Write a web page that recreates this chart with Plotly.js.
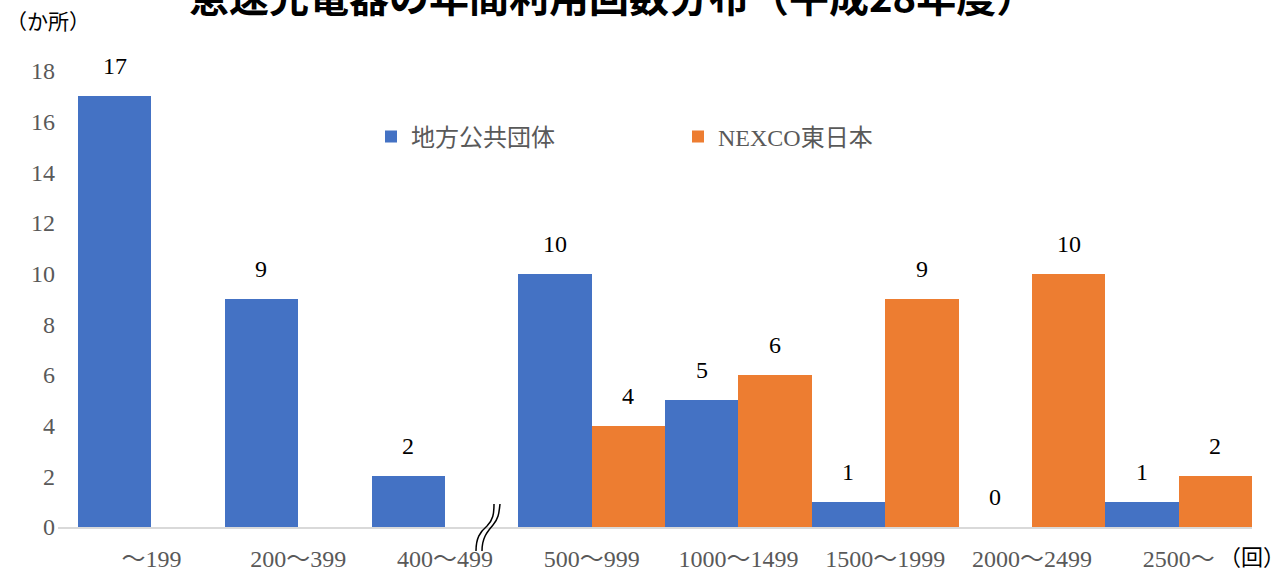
<!DOCTYPE html>
<html>
<head>
<meta charset="utf-8">
<script src="https://cdn.plot.ly/plotly-3.0.1.min.js"></script>
<style>html,body{margin:0;padding:0;background:#fff;}#chart{width:1287px;height:571px;}</style>
</head>
<body>
<div id="chart"></div>
<script>
const categories = ["～199", "200～399", "400～499", "500～999", "1000～1499", "1500～1999", "2000～2499", "2500～"];
const localGov = [17, 9, 2, 10, 5, 1, 0, 1];
const nexcoEast = [null, null, null, 4, 6, 9, 10, 2];
const seriesNames = ["地方公共団体", "NEXCO東日本"];
const titleText = "急速充電器の年間利用回数分布（平成28年度）";
const yUnit = "（か所）";
const xUnit = "（回）";

const W = 1287, H = 571;
const M = {l: 58, r: 35, t: 71, b: 44};
const plotW = W - M.l - M.r, plotH = H - M.t - M.b;
const px = x => (x - M.l) / plotW;
const py = y => (H - M.b - y) / plotH;

const serif = "Liberation Serif, Noto Sans CJK JP, serif";
const gray = "#595959";

const traces = [
  {type: "bar", name: seriesNames[0], x: categories, y: localGov,
   marker: {color: "#4472C4"}, hoverinfo: "x+y"},
  {type: "bar", name: seriesNames[1], x: categories, y: nexcoEast,
   marker: {color: "#ED7D31"}, hoverinfo: "x+y"}
];

const annotations = [];
const labelFont = {family: serif, size: 24, color: "#000"};
localGov.forEach((v, i) => {
  if (v !== null) annotations.push({x: i - 0.25, y: v, xref: "x", yref: "y", text: String(v),
    showarrow: false, yanchor: "bottom", yshift: 15, font: labelFont});
});
nexcoEast.forEach((v, i) => {
  if (v !== null) annotations.push({x: i + 0.25, y: v, xref: "x", yref: "y", text: String(v),
    showarrow: false, yanchor: "bottom", yshift: 15, font: labelFont});
});
annotations.push({x: px(4), y: py(22), xref: "paper", yref: "paper", xanchor: "left", yanchor: "middle",
  text: yUnit, showarrow: false, font: {family: serif, size: 21, color: "#000"}});
annotations.push({x: px(1287), y: py(557), xref: "paper", yref: "paper", xanchor: "right", yanchor: "middle",
  text: xUnit, showarrow: false, font: {family: serif, size: 22, color: "#000"}});
annotations.push({x: px(612), y: py(-5), xref: "paper", yref: "paper", xanchor: "center", yanchor: "middle",
  text: "<b>" + titleText + "</b>", showarrow: false,
  font: {family: "Noto Sans CJK JP, sans-serif", size: 40, color: "#000"}});

function curve(p) {
  const c = p.map(q => [px(q[0]).toFixed(5), py(q[1]).toFixed(5)]);
  return `M${c[0][0]},${c[0][1]} C${c[1][0]},${c[1][1]} ${c[2][0]},${c[2][1]} ${c[3][0]},${c[3][1]} C${c[4][0]},${c[4][1]} ${c[5][0]},${c[5][1]} ${c[6][0]},${c[6][1]}`;
}
const shapes = [
  {type: "path", xref: "paper", yref: "paper", line: {color: "#000", width: 1.5},
   path: curve([[476, 551], [476, 538], [480, 532], [487, 526], [493, 520], [494, 514], [494, 504]])},
  {type: "path", xref: "paper", yref: "paper", line: {color: "#000", width: 1.5},
   path: curve([[482, 551], [482, 538], [487, 532], [493, 525], [499, 518], [499, 512], [500, 504]])}
];

const layout = {
  width: W, height: H,
  margin: M,
  paper_bgcolor: "#fff", plot_bgcolor: "#fff",
  barmode: "group", bargap: 0.0, bargroupgap: 0,
  xaxis: {type: "category", range: [-0.5 - 20 / 146.75, 7.5], showgrid: false, zeroline: false,
    showline: true, linecolor: "#D9D9D9", linewidth: 2, ticks: "", ticklabelstandoff: 9,
    tickfont: {family: serif, size: 24, color: gray}, fixedrange: true},
  yaxis: {range: [0, 18], dtick: 2, showgrid: false, zeroline: false, showline: false, ticks: "",
    ticklabelstandoff: 2, tickfont: {family: serif, size: 24, color: gray}, fixedrange: true},
  legend: {orientation: "h", x: px(371), y: py(137), xanchor: "left", yanchor: "middle",
    font: {family: serif, size: 24, color: gray}, entrywidth: 262, itemwidth: 30, bgcolor: "rgba(0,0,0,0)"},
  annotations: annotations,
  shapes: shapes,
  showlegend: true
};

Plotly.newPlot("chart", traces, layout, {displayModeBar: false, staticPlot: true});
</script>
</body>
</html>
